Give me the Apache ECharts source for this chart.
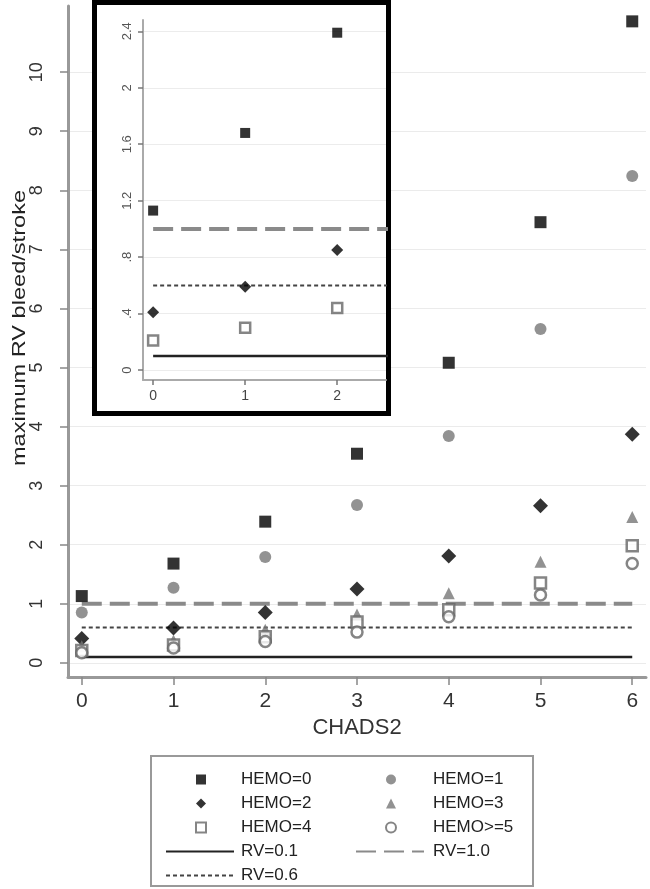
<!DOCTYPE html>
<html>
<head>
<meta charset="utf-8">
<script src="https://cdn.jsdelivr.net/npm/echarts@6/dist/echarts.min.js"></script>
<style>
  html, body { margin: 0; padding: 0; background: #fff; }
  #main { width: 650px; height: 889px; }
</style>
</head>
<body>
<div id="main"></div>
<script>
// CHADS2 score on x, max RV bleed/stroke on y
const chads2 = [0, 1, 2, 3, 4, 5, 6];
const hemo0 = [1.13, 1.68, 2.39, 3.54, 5.08, 7.46, 10.86];
const hemo1 = [0.85, 1.27, 1.79, 2.67, 3.84, 5.65, 8.24];
const hemo2 = [0.41, 0.59, 0.85, 1.25, 1.81, 2.66, 3.87];
const hemo3 = [0.28, 0.38, 0.56, 0.82, 1.18, 1.71, 2.47];
const hemo4 = [0.21, 0.30, 0.44, 0.69, 0.90, 1.35, 1.98];
const hemo5 = [0.17, 0.25, 0.36, 0.52, 0.78, 1.15, 1.68];
const rv01 = [0.1, 0.1, 0.1, 0.1, 0.1, 0.1, 0.1];
const rv10 = [1.0, 1.0, 1.0, 1.0, 1.0, 1.0, 1.0];
const rv06 = [0.6, 0.6, 0.6, 0.6, 0.6, 0.6, 0.6];

const mainXTicks = [0, 1, 2, 3, 4, 5, 6];
const mainYTicks = [0, 1, 2, 3, 4, 5, 6, 7, 8, 9, 10];
const insetXTicks = [0, 1, 2];
const insetYTicks = [0, 0.4, 0.8, 1.2, 1.6, 2, 2.4];
const insetCount = 3; // inset zooms on CHADS2 0..2

// legend laid out in two columns: markers on top, reference lines below
const legendMarkers1 = ['HEMO=0', 'HEMO=2', 'HEMO=4'];
const legendMarkers2 = ['HEMO=1', 'HEMO=3', 'HEMO>=5'];
const legendLines1 = ['RV=0.1', 'RV=0.6'];
const legendLines2 = ['RV=1.0'];

const FONT = '"Liberation Sans", Arial, sans-serif';

const pts = (ys, n) => chads2.slice(0, n || chads2.length).map((x, i) => [x, ys[i]]);

const chart = echarts.init(document.getElementById('main'));

const markerStyles = {
  'HEMO=0': { symbol: 'rect', size: 12, inset: 10, itemStyle: { color: '#000' } },
  'HEMO=1': { symbol: 'circle', size: 12, inset: 10, itemStyle: { color: '#777' } },
  'HEMO=2': { symbol: 'diamond', size: 15, inset: 12, itemStyle: { color: '#000' } },
  'HEMO=3': { symbol: 'triangle', size: 12, inset: 10, itemStyle: { color: '#777' } },
  'HEMO=4': { symbol: 'rect', size: 11, inset: 10, itemStyle: { color: '#fff', borderColor: '#666', borderWidth: 2.5 } },
  'HEMO>=5': { symbol: 'circle', size: 11, inset: 10, itemStyle: { color: '#fff', borderColor: '#666', borderWidth: 2.5 } }
};
const lineStyles = {
  'RV=0.1': { color: '#222', width: 2.5, type: 'solid' },
  'RV=1.0': { color: '#8a8a8a', width: 4, type: [20, 8] },
  'RV=0.6': { color: '#444', width: 2, type: [4, 3] }
};

const hemoData = { 'HEMO=0': hemo0, 'HEMO=1': hemo1, 'HEMO=2': hemo2, 'HEMO=3': hemo3, 'HEMO=4': hemo4, 'HEMO>=5': hemo5 };
const rvData = { 'RV=0.1': rv01, 'RV=1.0': rv10, 'RV=0.6': rv06 };
const insetHemo = ['HEMO=0', 'HEMO=2', 'HEMO=4'];

const series = [];
Object.keys(rvData).forEach(name => {
  series.push({ name, type: 'line', xAxisIndex: 0, yAxisIndex: 0, data: pts(rvData[name]),
    symbol: 'none', lineStyle: lineStyles[name], itemStyle: { color: lineStyles[name].color }, z: 2 });
});
Object.keys(hemoData).forEach(name => {
  const m = markerStyles[name];
  series.push({ name, type: 'scatter', xAxisIndex: 0, yAxisIndex: 0, data: pts(hemoData[name]),
    symbol: m.symbol, symbolSize: m.size, itemStyle: m.itemStyle, z: 3 });
});
Object.keys(rvData).forEach(name => {
  series.push({ name, type: 'line', xAxisIndex: 1, yAxisIndex: 1, data: pts(rvData[name]), clip: true,
    symbol: 'none', lineStyle: lineStyles[name], itemStyle: { color: lineStyles[name].color }, zlevel: 1, z: 3 });
});
insetHemo.forEach(name => {
  const m = markerStyles[name];
  series.push({ name, type: 'scatter', xAxisIndex: 1, yAxisIndex: 1, data: pts(hemoData[name], insetCount),
    symbol: m.symbol, symbolSize: m.inset, itemStyle: m.itemStyle, zlevel: 1, z: 4 });
});

const legendText = pad => ({ fontSize: 17, lineHeight: 17, color: '#222', fontFamily: FONT, padding: [0, 0, 0, pad] });
const legendBase = { orient: 'vertical', itemHeight: 10, itemGap: 7, selectedMode: false };

const option = {
  animation: false,
  backgroundColor: '#fff',
  grid: [
    { left: 68, right: 4, top: 6, bottom: 212 },
    { left: 143, right: 264, top: 20, bottom: 509, zlevel: 1 }
  ],
  xAxis: [
    {
      gridIndex: 0, type: 'value', min: -0.15, max: 6.15,
      name: 'CHADS2', nameLocation: 'middle', nameGap: 37,
      nameTextStyle: { fontSize: 22, color: '#333', fontFamily: FONT },
      axisLine: { show: true, onZero: false, lineStyle: { color: '#999', width: 3 } },
      axisTick: { show: true, customValues: mainXTicks, length: 8, lineStyle: { color: '#888', width: 1.5 } },
      axisLabel: { customValues: mainXTicks, margin: 14, fontSize: 21, color: '#333', fontFamily: FONT },
      splitLine: { show: false }
    },
    {
      gridIndex: 1, type: 'value', min: -0.11, max: 2.53, zlevel: 1, z: 2,
      axisLine: { show: true, onZero: false, lineStyle: { color: '#aaa', width: 2 } },
      axisTick: { show: true, customValues: insetXTicks, length: 5, lineStyle: { color: '#777', width: 1.5 } },
      axisLabel: { customValues: insetXTicks, margin: 9, fontSize: 14, color: '#444', fontFamily: FONT },
      splitLine: { show: false }
    }
  ],
  yAxis: [
    {
      gridIndex: 0, type: 'value', min: -0.24, max: 11.12,
      axisLine: { show: true, onZero: false, lineStyle: { color: '#999', width: 3 } },
      axisTick: { show: true, customValues: mainYTicks, length: 8, lineStyle: { color: '#888', width: 1.5 } },
      axisLabel: { customValues: mainYTicks, rotate: 90, margin: 22, fontSize: 18, color: '#333', fontFamily: FONT },
      splitLine: { show: true, lineStyle: { color: '#ebebeb', width: 1 } }
    },
    {
      gridIndex: 1, type: 'value', min: -0.07, max: 2.48, zlevel: 1, z: 2,
      axisLine: { show: true, onZero: false, lineStyle: { color: '#aaa', width: 2 } },
      axisTick: { show: true, customValues: insetYTicks, length: 5, lineStyle: { color: '#777', width: 1.5 } },
      axisLabel: {
        customValues: insetYTicks, rotate: 90, margin: 9, fontSize: 13, color: '#555', fontFamily: FONT,
        formatter: v => (v > 0 && v < 1 ? String(v).slice(1) : String(v))
      },
      splitLine: { show: true, lineStyle: { color: '#ececec', width: 1 } }
    }
  ],
  legend: [
    Object.assign({}, legendBase, { data: legendMarkers1, left: 190, top: 766, itemWidth: 10, textStyle: legendText(30) }),
    Object.assign({}, legendBase, { data: legendMarkers2, left: 380, top: 766, itemWidth: 10, textStyle: legendText(32) }),
    Object.assign({}, legendBase, {
      data: legendLines1.map(n => ({ name: n, itemStyle: { opacity: 0 } })),
      left: 160, top: 838, itemWidth: 68, textStyle: legendText(2)
    }),
    Object.assign({}, legendBase, {
      data: legendLines2.map(n => ({ name: n, itemStyle: { opacity: 0 } })),
      left: 350, top: 838, itemWidth: 68, textStyle: legendText(4)
    })
  ],
  graphic: [
    { type: 'rect', zlevel: 1, z: 1, shape: { x: 94.5, y: 2.5, width: 294, height: 411 },
      style: { fill: '#fff', stroke: '#000', lineWidth: 5 } },
    { type: 'rect', z: 0, shape: { x: 151, y: 756, width: 382, height: 130 },
      style: { fill: '#fff', stroke: '#999', lineWidth: 2 } },
    { type: 'text', x: 20, y: 328, rotation: Math.PI / 2, scaleX: 1.31,
      style: { text: 'maximum RV bleed/stroke', font: '18px ' + FONT, fill: '#222',
        textAlign: 'center', textVerticalAlign: 'middle' } }
  ],
  series
};

chart.setOption(option);
</script>
</body>
</html>
